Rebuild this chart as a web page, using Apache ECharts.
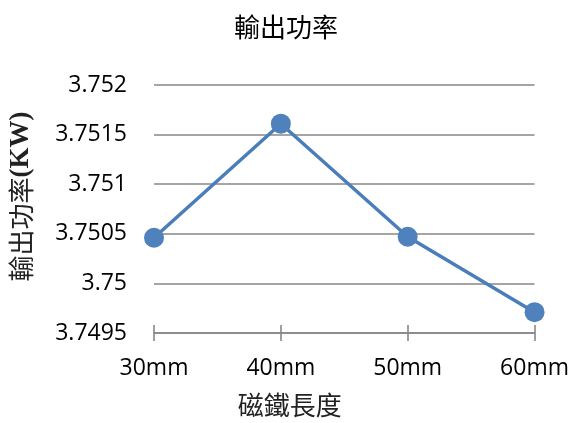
<!DOCTYPE html>
<html>
<head>
<meta charset="utf-8">
<script src="https://cdn.jsdelivr.net/npm/echarts@6/dist/echarts.min.js"></script>
<style>
html,body{margin:0;padding:0;background:#fff;}
#chart{width:572px;height:423px;}
</style>
</head>
<body>
<div id="chart"></div>
<script>
// Magnet length categories and measured output power (kW)
const categories = ['30mm', '40mm', '50mm', '60mm'];
const powerValues = [3.75046, 3.75161, 3.75047, 3.74971];
const yTicks = ['3.7495', '3.75', '3.7505', '3.751', '3.7515', '3.752'];

const labelFont = '"Open Sans", "Liberation Sans", sans-serif';
const cjkFont = '"Noto Sans CJK TC", "Noto Sans CJK SC", sans-serif';
const serifFont = '"Liberation Serif", "DejaVu Serif", serif';
const axisGrey = '#878787';

const chart = echarts.init(document.getElementById('chart'));
chart.setOption({
  backgroundColor: '#ffffff',
  animation: false,
  title: {
    text: '輸出功率',
    left: 'center',
    top: 9,
    textStyle: { fontFamily: cjkFont, fontSize: 26, fontWeight: 'normal', color: '#000' }
  },
  grid: { left: 154, right: 37, top: 85, bottom: 85, containLabel: false },
  xAxis: [
    {
      type: 'category',
      data: categories,
      boundaryGap: false,
      name: '磁鐵長度',
      nameLocation: 'middle',
      nameGap: 59,
      nameTextStyle: { fontFamily: cjkFont, fontSize: 26, color: '#222', padding: [0, 109, 0, 0] },
      axisLine: { lineStyle: { color: axisGrey, width: 1.6 } },
      axisTick: { show: true, inside: false, length: 8, lineStyle: { color: axisGrey, width: 1.6 } },
      axisLabel: { fontFamily: labelFont, fontSize: 23, color: '#000', margin: 24 },
      splitLine: { show: false }
    },
    {
      // upper half of the crossing tick marks
      type: 'category',
      data: categories,
      boundaryGap: false,
      position: 'bottom',
      axisLine: { show: false },
      axisTick: { show: true, inside: true, length: 8, lineStyle: { color: axisGrey, width: 1.6 } },
      axisLabel: { show: false },
      splitLine: { show: false }
    }
  ],
  yAxis: {
    type: 'value',
    min: 3.7495,
    max: 3.752,
    interval: 0.0005,
    name: '{cjk|輸出功率}{lat|(KW)}',
    nameLocation: 'middle',
    nameGap: 119,
    nameRotate: 90,
    nameTextStyle: {
      color: '#222',
      padding: [0, 0, 0, 25],
      rich: {
        cjk: { fontFamily: cjkFont, fontSize: 26, color: '#222' },
        lat: { fontFamily: serifFont, fontSize: 27, fontWeight: 'bold', color: '#222' }
      }
    },
    axisLine: { show: false },
    axisTick: { show: false },
    axisLabel: {
      fontFamily: labelFont,
      fontSize: 23,
      color: '#000',
      margin: 27,
      formatter: function (v) {
        const s = v.toFixed(4).replace(/0+$/, '').replace(/\.$/, '');
        return yTicks.includes(s) ? s : '';
      }
    },
    splitLine: { lineStyle: { color: axisGrey, width: 1.6 } }
  },
  series: [{
    type: 'line',
    data: powerValues,
    symbol: 'circle',
    symbolSize: 20,
    itemStyle: { color: '#4f81bd' },
    lineStyle: { color: '#4a7ebb', width: 3.5 }
  }]
});
</script>
</body>
</html>
